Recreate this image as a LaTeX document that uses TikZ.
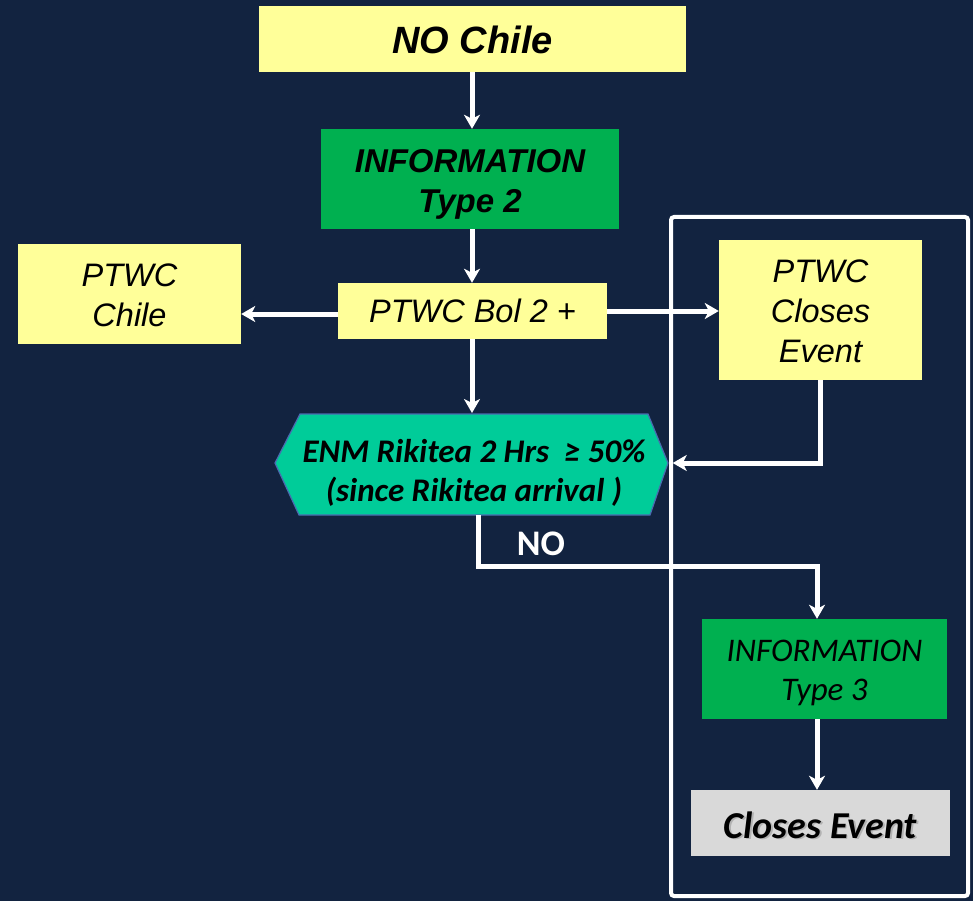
\documentclass[tikz,border=0pt]{standalone}
\usepackage{fontspec}
\setmainfont{Liberation Sans}
\newfontfamily\carlito{Carlito}
\usetikzlibrary{arrows.meta}
\definecolor{bgnavy}{HTML}{122340}
\definecolor{boxyellow}{HTML}{FFFF99}
\definecolor{boxgreen}{HTML}{00B050}
\definecolor{hexgreen}{HTML}{00CC99}
\definecolor{hexborder}{HTML}{4A6AB0}
\definecolor{boxgray}{HTML}{D9D9D9}
\newcommand\shiftdown[2]{\raisebox{-#1}[\height][\depth]{\begin{tabular}{@{}c@{}}#2\end{tabular}}}
\begin{document}
\begin{tikzpicture}[x=1pt,y=-1pt,
  box/.style={rectangle, inner sep=0pt, align=center, text=black},
  ybox/.style={box, fill=boxyellow},
  gbox/.style={box, fill=boxgreen},
  arialit/.style={font=\fontsize{32.5}{40}\selectfont\itshape},
  arialbi/.style={font=\fontsize{33}{40}\selectfont\bfseries\itshape},
  conn/.style={draw=white, line width=5pt, -{Stealth[length=14pt,width=16pt,inset=4pt]}},
]
\fill[bgnavy] (0,0) rectangle (973,901);
\useasboundingbox (0,0) rectangle (973,901);

% white frame
\draw[white, line width=4pt, rounded corners=3pt] (671,217) rectangle (968,896);

% nodes
\node[ybox, minimum width=427pt, minimum height=66pt, font=\fontsize{38}{40}\selectfont\bfseries\itshape] (nochile) at (472.5,39) {\shiftdown{7pt}{NO Chile}};
\node[gbox, arialbi, minimum width=298pt, minimum height=100pt] (info2) at (470,179) {\shiftdown{5.5pt}{INFORMATION\\Type 2}};
\node[ybox, arialit, minimum width=223pt, minimum height=100pt] (chile) at (129.5,294) {\shiftdown{4.5pt}{PTWC\\Chile}};
\node[ybox, arialit, minimum width=269pt, minimum height=56pt] (bol) at (472.5,311) {PTWC Bol 2 +};
\node[ybox, arialit, minimum width=203pt, minimum height=140pt] (closes1) at (820.5,310) {\shiftdown{4pt}{PTWC\\Closes\\Event}};

% hexagon decision
\filldraw[fill=hexgreen, draw=hexborder, line width=1.2pt]
  (275,463) -- (300,414) -- (648,414) -- (668,463) -- (650,515) -- (299,515) -- cycle;
\node[box, minimum width=393pt, minimum height=102pt, font=\carlito\fontsize{33}{39}\selectfont\bfseries\itshape] (hex) at (474,464) {\shiftdown{10pt}{ENM Rikitea 2 Hrs~ ≥ 50\%\\(since Rikitea arrival )}};

\node[gbox, minimum width=245pt, minimum height=100pt, font=\carlito\fontsize{33}{39}\selectfont\itshape] (info3) at (824.5,669) {\shiftdown{4.5pt}{INFORMATION\\Type 3}};
\node[box, fill=boxgray, minimum width=259pt, minimum height=66pt, font=\carlito\fontsize{38}{40}\selectfont\bfseries\itshape] (closes2) at (820.5,823)
  {\shiftdown{7pt}{\rlap{\raisebox{-1.8pt}[0pt][0pt]{\hspace{1.8pt}\color{black!30}Closes Event}}Closes Event}};

\node[text=white, font=\carlito\fontsize{36}{40}\selectfont\bfseries, anchor=center] (nolabel) at (541,544) {NO};

% connectors
\draw[conn] (472,72) coordinate (a1) -- (a1 |- info2.north);
\draw[conn] (472,229) coordinate (a2) -- (a2 |- bol.north);
\draw[conn] (bol.west |- 0,314) -- (chile.east |- 0,314);
\draw[conn] (bol.east |- 0,311) -- (closes1.west |- 0,311);
\draw[conn] (472,339) coordinate (a3) -- (472,413);
\draw[conn] (closes1.south) |- ([xshift=2pt]hex.east |- 0,463);
\draw[conn] ([xshift=4pt]hex.south) -- ++(0,51) -| ([xshift=-7.5pt]info3.north);
\draw[conn] ([xshift=-7.5pt]info3.south) coordinate (b1) -- (b1 |- closes2.north);
\end{tikzpicture}
\end{document}
